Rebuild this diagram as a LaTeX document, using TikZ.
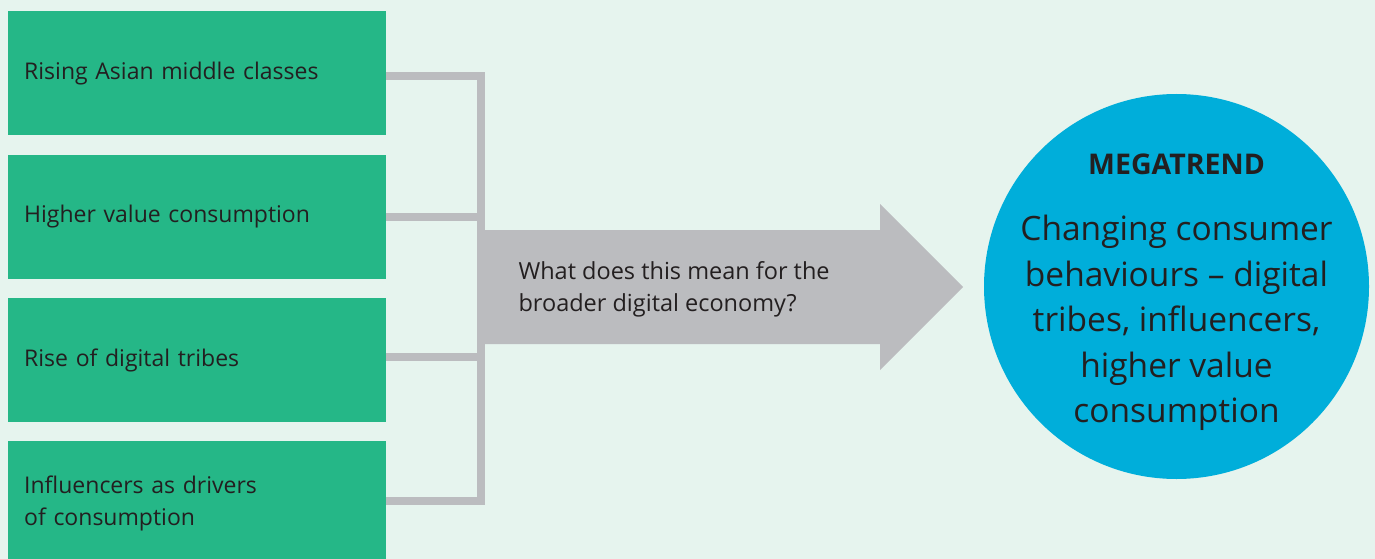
\documentclass[tikz,border=0pt]{standalone}
\usepackage{fontspec}
\setmainfont{Open Sans}
\usetikzlibrary{positioning}
\usepackage{xcolor}
\definecolor{mintbg}{HTML}{E6F4EE}
\definecolor{drivergreen}{HTML}{25B787}
\definecolor{linkgray}{HTML}{BBBCBF}
\definecolor{megablue}{HTML}{00AEDA}
\definecolor{inktext}{HTML}{231F20}

\tikzset{
  driverbox/.style={fill=drivergreen, text=inktext, minimum width=378pt, minimum height=124pt,
    text width=346pt, inner xsep=16pt, align=left, font=\fontsize{23}{32}\selectfont},
  link/.style={draw=linkgray, line width=8pt},
}

\begin{document}
\begin{tikzpicture}[x=1pt, y=-1pt, node distance=19pt]

  % Background
  \useasboundingbox (0,0) rectangle (1375,559);
  \fill[mintbg] (0,0) rectangle (1375,559);

  % Driver boxes (left)
  \node[driverbox, anchor=north west] (asian) at (8,11) {Rising Asian middle classes};
  \node[driverbox, below=of asian] (value) {Higher value consumption};
  \node[driverbox, below=of value] (tribes) {Rise of digital tribes};
  \node[driverbox, below=of tribes] (influencers) {Influencers as drivers\\of consumption};

  % Connector bracket
  \coordinate (bar) at (481,0);
  \draw[link] ([yshift=-3pt]asian.east) -- ([yshift=-3pt]asian.east -| bar)
    -- ([yshift=2pt]influencers.east -| bar) -- ([yshift=2pt]influencers.east);
  \draw[link] (value.east) -- (value.east -| bar);
  \draw[link] ([yshift=3pt]tribes.east) -- ([yshift=3pt]tribes.east -| bar);

  % Big grey arrow
  \fill[linkgray] (477,230) -- (880,230) -- (880,204) -- (963,287)
    -- (880,370) -- (880,344) -- (477,344) -- cycle;
  \node[anchor=west, align=left, text=inktext, font=\fontsize{23.5}{32}\selectfont]
    (question) at (515,289) {What does this mean for the\\broader digital economy?};

  % Megatrend circle
  \node[circle, fill=megablue, minimum size=385pt, inner sep=0pt] (trend) at (1176.5,286.5) {};
  \node[text=inktext, font=\fontsize{28.5}{30}\selectfont\bfseries] (megalabel) at (1176.5,164) {MEGATREND};
  \node[align=center, text=inktext, font=\fontsize{33.5}{45.5}\selectfont]
    (trendtext) at (1176.5,323) {Changing consumer\\behaviours -- digital\\tribes, influencers,\\higher value\\consumption};

\end{tikzpicture}
\end{document}
